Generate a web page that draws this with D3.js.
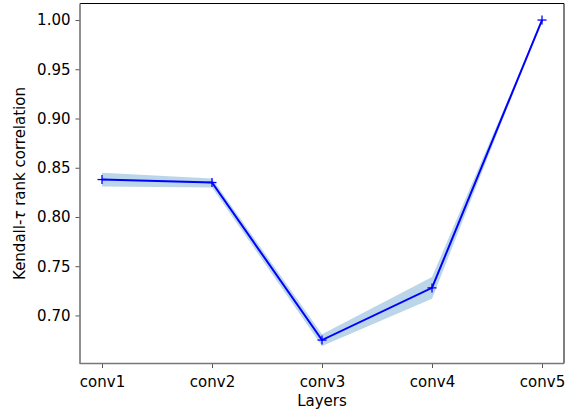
<!DOCTYPE html>
<html>
<head>
<meta charset="utf-8">
<script src="https://cdn.jsdelivr.net/npm/d3@7"></script>
<style>
  html, body { margin: 0; padding: 0; background: #fff; }
  text { font-family: "DejaVu Sans", sans-serif; }
</style>
</head>
<body>
<svg id="chart" width="566" height="415"></svg>
<script>
const layers = ["conv1", "conv2", "conv3", "conv4", "conv5"];
const meanTau = [0.838, 0.835, 0.675, 0.728, 1.000];
const lowerTau = [0.831, 0.830, 0.669, 0.717, 1.000];
const upperTau = [0.845, 0.839, 0.681, 0.739, 1.000];
const yTicks = [0.70, 0.75, 0.80, 0.85, 0.90, 0.95, 1.00];

const svg = d3.select("#chart");
const mLeft = 80, mRight = 564, mTop = 3.5, mBottom = 363.5;

const x = d3.scalePoint().domain(layers).range([mLeft + 22, mRight - 22]);
const y = d3.scaleLinear().domain([0.6512, 1.0168]).range([mBottom, mTop]);

const data = layers.map((l, i) => ({ l, m: meanTau[i], lo: lowerTau[i], hi: upperTau[i] }));

// band
svg.append("path")
  .datum(data)
  .attr("d", d3.area().x(d => x(d.l)).y0(d => y(d.lo)).y1(d => y(d.hi)))
  .attr("fill", "#1f77b4").attr("fill-opacity", 0.3).attr("stroke", "none");

// line
svg.append("path")
  .datum(data)
  .attr("d", d3.line().x(d => x(d.l)).y(d => y(d.m)))
  .attr("fill", "none").attr("stroke", "#0000ff").attr("stroke-width", 2);

// markers
const mk = svg.append("g").selectAll("g").data(data).join("g")
  .attr("transform", d => `translate(${x(d.l)},${y(d.m)})`);
mk.append("line").attr("x1", -4.5).attr("x2", 4.5).attr("stroke", "#0000ff").attr("stroke-width", 1.3);
mk.append("line").attr("y1", -4.5).attr("y2", 4.5).attr("stroke", "#0000ff").attr("stroke-width", 1.3);

// axes
const yAxis = svg.append("g").attr("transform", `translate(${mLeft},0)`)
  .call(d3.axisLeft(y).tickValues(yTicks).tickFormat(d3.format(".2f")).tickSizeOuter(0).tickSize(4.5).tickPadding(5));
const xAxis = svg.append("g").attr("transform", `translate(0,${mBottom})`)
  .call(d3.axisBottom(x).tickSizeOuter(0).tickSize(4.5).tickPadding(5));
[yAxis, xAxis].forEach(a => {
  a.select(".domain").remove();
  a.selectAll("line").attr("stroke", "#555").attr("stroke-width", 1);
  a.selectAll("text").attr("font-size", 15).attr("fill", "#000").attr("font-family", "DejaVu Sans");
});
xAxis.selectAll("text").attr("dy", "0.95em");

// spines
svg.append("line").attr("x1", mLeft).attr("x2", mRight).attr("y1", mTop).attr("y2", mTop).attr("stroke", "#000").attr("stroke-width", 1);
svg.append("line").attr("x1", mRight).attr("x2", mRight).attr("y1", mTop).attr("y2", mBottom).attr("stroke", "#000").attr("stroke-width", 1);
svg.append("line").attr("x1", mLeft).attr("x2", mLeft).attr("y1", mTop).attr("y2", mBottom + 0.5).attr("stroke", "#777").attr("stroke-width", 1.6);
svg.append("line").attr("x1", mLeft).attr("x2", mRight).attr("y1", mBottom).attr("y2", mBottom).attr("stroke", "#777").attr("stroke-width", 1.6);

// labels
svg.append("text").attr("x", (mLeft + mRight) / 2).attr("y", 406)
  .attr("text-anchor", "middle").attr("font-size", 15).text("Layers");
const yl = svg.append("text").attr("transform", `translate(25,${(mTop + mBottom) / 2}) rotate(-90)`)
  .attr("text-anchor", "middle").attr("font-size", 15);
yl.append("tspan").text("Kendall-");
yl.append("tspan").attr("font-style", "italic").text("τ");
yl.append("tspan").text(" rank correlation");
</script>
</body>
</html>
